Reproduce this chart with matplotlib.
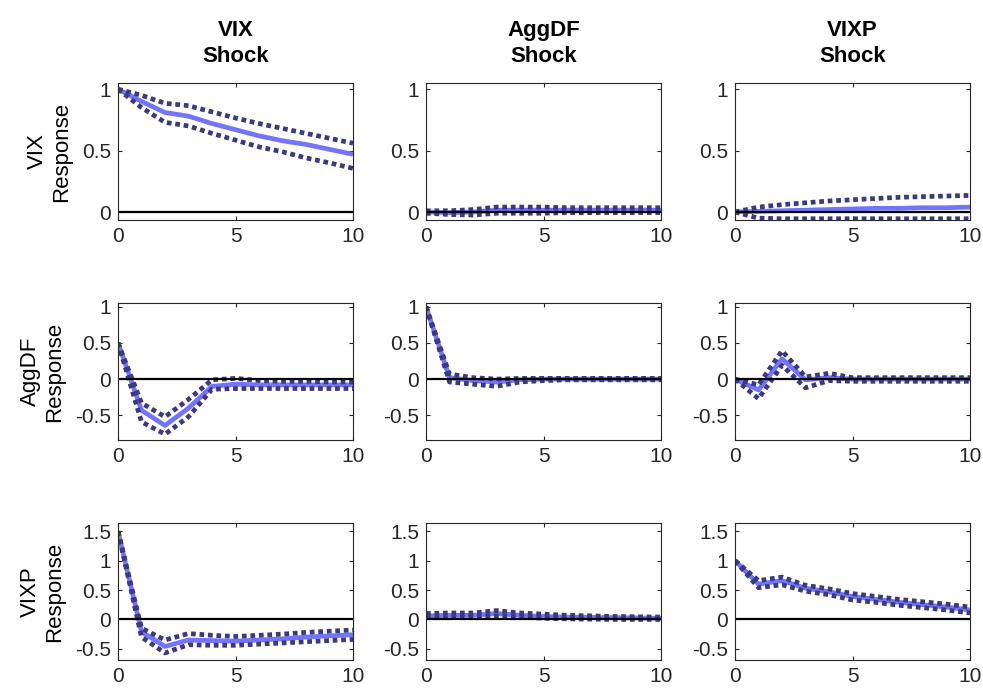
import matplotlib
matplotlib.use("Agg")
import matplotlib.pyplot as plt
import numpy as np

plt.rcParams['font.family'] = ['Liberation Sans', 'DejaVu Sans']
plt.rcParams['axes.unicode_minus'] = False

names = ["VIX", "AggDF", "VIXP"]
horizon = list(range(11))

# irf[(response, shock)] = (mean, upper, lower)
irf = {}
irf[("VIX", "VIX")] = (
    [1.0, 0.90, 0.81, 0.78, 0.72, 0.67, 0.62, 0.58, 0.55, 0.51, 0.47],
    [1.0, 0.95, 0.885, 0.865, 0.815, 0.765, 0.72, 0.68, 0.64, 0.60, 0.56],
    [1.0, 0.85, 0.73, 0.70, 0.64, 0.585, 0.53, 0.49, 0.44, 0.40, 0.355],
)
irf[("VIX", "AggDF")] = (
    [0.0, -0.005, 0.0, 0.015, 0.015, 0.015, 0.015, 0.015, 0.015, 0.015, 0.015],
    [0.01, 0.01, 0.02, 0.04, 0.04, 0.04, 0.035, 0.035, 0.035, 0.035, 0.035],
    [-0.01, -0.02, -0.025, -0.01, -0.01, -0.01, -0.005, -0.005, -0.005, -0.005, -0.005],
)
irf[("VIX", "VIXP")] = (
    [0.0, 0.005, 0.01, 0.015, 0.02, 0.025, 0.03, 0.03, 0.035, 0.035, 0.04],
    [0.0, 0.04, 0.06, 0.075, 0.09, 0.10, 0.11, 0.12, 0.125, 0.13, 0.135],
    [0.0, -0.05, -0.055, -0.055, -0.055, -0.055, -0.055, -0.055, -0.055, -0.055, -0.055],
)
irf[("AggDF", "VIX")] = (
    [0.5, -0.43, -0.64, -0.40, -0.10, -0.07, -0.08, -0.08, -0.08, -0.08, -0.08],
    [0.5, -0.33, -0.52, -0.28, -0.01, 0.01, -0.02, -0.03, -0.03, -0.04, -0.04],
    [0.5, -0.59, -0.76, -0.52, -0.14, -0.13, -0.13, -0.13, -0.13, -0.13, -0.13],
)
irf[("AggDF", "AggDF")] = (
    [1.0, 0.02, -0.02, -0.04, -0.01, 0.0, 0.0, 0.0, 0.0, 0.0, 0.0],
    [1.0, 0.07, 0.02, 0.0, 0.01, 0.01, 0.01, 0.01, 0.01, 0.01, 0.01],
    [1.0, -0.04, -0.07, -0.10, -0.04, -0.02, -0.01, -0.01, -0.01, -0.01, -0.01],
)
irf[("AggDF", "VIXP")] = (
    [0.0, -0.15, 0.28, -0.01, 0.02, 0.0, 0.0, 0.0, 0.0, 0.0, 0.0],
    [0.0, -0.08, 0.39, 0.03, 0.08, 0.02, 0.02, 0.02, 0.02, 0.02, 0.02],
    [0.0, -0.27, 0.19, -0.12, -0.02, -0.03, -0.03, -0.03, -0.03, -0.03, -0.03],
)
irf[("VIXP", "VIX")] = (
    [1.5, -0.21, -0.46, -0.35, -0.36, -0.37, -0.35, -0.33, -0.30, -0.28, -0.26],
    [1.5, -0.15, -0.35, -0.24, -0.27, -0.29, -0.27, -0.25, -0.22, -0.20, -0.18],
    [1.5, -0.30, -0.57, -0.43, -0.44, -0.44, -0.42, -0.40, -0.38, -0.36, -0.34],
)
irf[("VIXP", "AggDF")] = (
    [0.06, 0.07, 0.07, 0.10, 0.07, 0.05, 0.04, 0.035, 0.03, 0.025, 0.02],
    [0.10, 0.11, 0.11, 0.15, 0.11, 0.09, 0.07, 0.06, 0.05, 0.045, 0.04],
    [0.03, 0.03, 0.04, 0.06, 0.04, 0.02, 0.01, 0.005, 0.0, 0.0, 0.0],
)
irf[("VIXP", "VIXP")] = (
    [1.0, 0.60, 0.66, 0.53, 0.47, 0.39, 0.34, 0.29, 0.25, 0.21, 0.16],
    [1.0, 0.66, 0.72, 0.58, 0.52, 0.44, 0.39, 0.34, 0.30, 0.26, 0.21],
    [1.0, 0.54, 0.59, 0.48, 0.42, 0.33, 0.29, 0.24, 0.20, 0.16, 0.11],
)

row_ylim = [(-0.065, 1.05), (-0.84, 1.05), (-0.69, 1.64)]
row_yticks = [[0, 0.5, 1], [-0.5, 0, 0.5, 1], [-0.5, 0, 0.5, 1, 1.5]]

fig = plt.figure(figsize=(9.83, 6.9), dpi=100)
W, H = 983, 690
lefts = [118, 426, 735]
tops = [83, 303, 523]
aw, ah = 235, 137

mean_col = '#7474f8'
band_col = '#3a3a7c'

for i, resp in enumerate(names):
    for j, shock in enumerate(names):
        ax = fig.add_axes([lefts[j] / W, 1 - (tops[i] + ah) / H, aw / W, ah / H])
        mean, up, lo = irf[(resp, shock)]
        ax.plot(horizon, mean, color=mean_col, lw=3.4, solid_capstyle='butt')
        for band in (up, lo):
            ax.plot(horizon, band, color=band_col, lw=3.4, linestyle=(0, (1.0, 0.8)),
                    dash_capstyle='butt')
        ax.axhline(0, color='black', lw=1.6)
        ax.set_xlim(0, 10)
        ax.set_ylim(*row_ylim[i])
        ax.set_xticks([0, 5, 10])
        ax.set_yticks(row_yticks[i])
        ax.set_yticklabels([f"{t:g}" for t in row_yticks[i]])
        ax.tick_params(direction='in', top=True, right=True, length=3,
                       labelsize=15, colors='#262626', width=0.8, pad=5)
        for s in ax.spines.values():
            s.set_color('#262626')
            s.set_linewidth(0.8)
        if i == 0:
            ax.set_title(f"{shock}\nShock", fontsize=16, fontweight='bold',
                         pad=15, linespacing=1.35)
        if j == 0:
            ax.set_ylabel(f"{resp}\nResponse", fontsize=16, labelpad=7,
                          linespacing=1.2)

fig.savefig("out.png", dpi=100)
